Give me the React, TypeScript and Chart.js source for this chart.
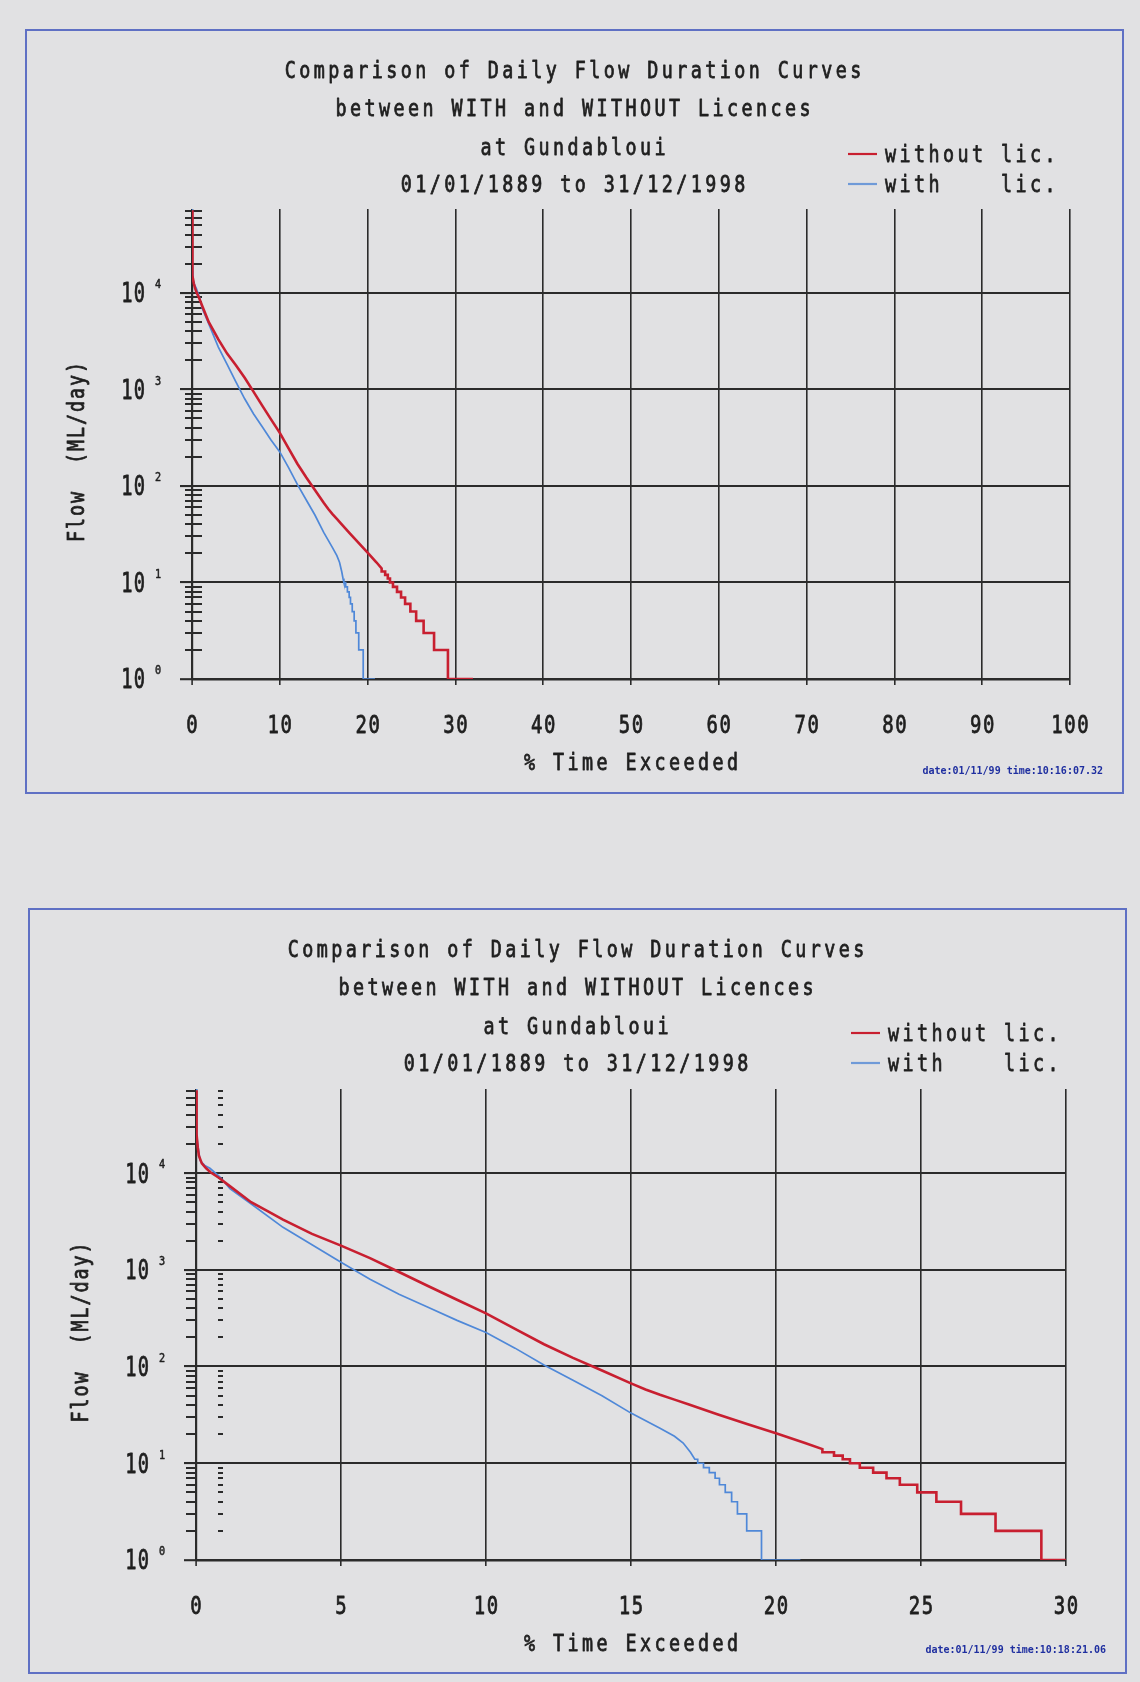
import React, { useEffect, useRef } from 'react';
import { Chart, registerables } from 'chart.js';

Chart.register(...registerables);

// ---------- data ----------
const X_TICKS_FULL = [0, 10, 20, 30, 40, 50, 60, 70, 80, 90, 100];
const X_TICKS_ZOOM = [0, 5, 10, 15, 20, 25, 30];
const Y_DECADES = [1, 10, 100, 1000, 10000];
const Y_EXPONENTS = ['0', '1', '2', '3', '4'];
const Y_MIN = 1;
const Y_MAX = 74000;

const TITLE_LINES = [
  'Comparison of Daily Flow Duration Curves',
  'between WITH and WITHOUT Licences',
  'at Gundabloui',
  '01/01/1889 to 31/12/1998',
];
const LEGEND_LABELS = ['without lic.', 'with    lic.'];
const X_TITLE = '% Time Exceeded';
const Y_TITLE = 'Flow  (ML/day)';
const STAMPS = ['date:01/11/99 time:10:16:07.32', 'date:01/11/99 time:10:18:21.06'];

// "without lic." flow duration curve (% time exceeded, ML/day)
const WITHOUT_X = [
  0, 0.01, 0.03, 0.06, 0.1, 0.2, 0.35, 0.5, 0.8, 1.2, 1.9, 2.5, 3, 4, 5, 6, 7, 8, 9, 10,
  11, 12, 13, 14, 15, 15.5, 16, 16.5, 17, 18, 19, 20, 21, 21.6, 21.6, 22.0, 22.0, 22.3, 22.3, 22.55,
  22.55, 22.89, 22.89, 23.35, 23.35, 23.81, 23.81, 24.27, 24.27, 24.87, 24.87, 25.53,
  25.53, 26.38, 26.38, 27.57, 27.57, 29.15, 29.15, 32,
];
const WITHOUT_Y = [
  72000, 40000, 25000, 18500, 15100, 12600, 11200, 10200, 8900, 7200, 5000, 4000, 3300,
  2350, 1780, 1320, 950, 680, 490, 355, 245, 170, 123, 91, 67, 58, 51, 45.5, 40.5, 32, 25.5, 20.4,
  16.2, 14, 13, 13, 12, 12, 11, 11, 10, 10, 9, 9, 8, 8, 7, 7, 6, 6, 5, 5, 4, 4, 3, 3, 2,
  2, 1, 1,
];

// "with lic." flow duration curve
const WITH_X = [
  0, 0.01, 0.03, 0.06, 0.14, 0.3, 0.48, 0.83, 1.17, 1.86, 3, 4, 5, 6, 7, 8, 9, 10, 11, 12,
  13, 14, 15, 16, 16.5, 16.8, 17.05, 17.2, 17.3, 17.3, 17.5, 17.5, 17.7, 17.7, 17.9, 17.9,
  18.05, 18.05, 18.25, 18.25, 18.47, 18.47, 18.67, 18.67, 18.99, 18.99, 19.5, 19.5, 20.84,
];
const WITH_Y = [
  74000, 42000, 26000, 19500, 13500, 12000, 11200, 9100, 6900, 4900, 2750, 1820, 1200, 800,
  560, 410, 300, 225, 155, 104, 72, 50, 33, 23, 19, 16.2, 13, 11, 11, 10, 10, 9, 9, 8, 8, 7, 7,
  6, 6, 5, 5, 4, 4, 3, 3, 2, 2, 1, 1,
];

// ---------- styles ----------
const PAGE_BG = '#e1e1e3';
const PANEL_BORDER = '#5f70c4';
const GRID = '#2b2b2b';
const TEXT = '#1f1f1f';
const RED = '#c81f30';
const BLUE = '#4f88d8';
const LEGEND_BLUE = '#6f9ad8';
const STAMP_COLOR = '#1f2fa0';
const MONO = '"DejaVu Sans Mono", "Liberation Mono", monospace';

type TickStyle = 'cross' | 'split';
interface PanelSpec {
  left: number;
  top: number;
  width: number;
  height: number;
  xMax: number;
  xTicks: number[];
  padding: { left: number; right: number; top: number; bottom: number };
  tickStyle: TickStyle;
  stamp: string;
}

const PANELS: PanelSpec[] = [
  {
    left: 25, top: 29, width: 1099, height: 765, xMax: 100, xTicks: X_TICKS_FULL,
    padding: { left: 153, right: 52, top: 178, bottom: 107 }, tickStyle: 'cross', stamp: STAMPS[0],
  },
  {
    left: 28, top: 908, width: 1099, height: 766, xMax: 30, xTicks: X_TICKS_ZOOM,
    padding: { left: 154, right: 59, top: 179, bottom: 106 }, tickStyle: 'split', stamp: STAMPS[1],
  },
];

interface MonoOpts {
  size: number;
  cell: number;
  sx: number;
  align?: 'left' | 'center' | 'right';
  color?: string;
  weight?: string;
  stroke?: number;
}

function drawMono(ctx: CanvasRenderingContext2D, text: string, x: number, y: number, o: MonoOpts) {
  ctx.save();
  ctx.font = `${o.weight || 'normal'} ${o.size}px ${MONO}`;
  ctx.fillStyle = o.color || TEXT;
  ctx.strokeStyle = o.color || TEXT;
  ctx.lineWidth = o.stroke === undefined ? 0.8 : o.stroke;
  ctx.lineJoin = 'round';
  ctx.textAlign = 'left';
  ctx.textBaseline = 'alphabetic';
  const adv = ctx.measureText('M').width;
  const chars = Array.from(text);
  const glyph = adv * o.sx;
  const total = (chars.length - 1) * o.cell + glyph;
  const start = o.align === 'center' ? x - total / 2 : o.align === 'right' ? x - total : x;
  const base = y + (o.size * 0.729) / 2;
  ctx.translate(start, base);
  ctx.scale(o.sx, 1);
  const ls = o.cell / o.sx - adv;
  const anyCtx = ctx as any;
  const doStroke = ctx.lineWidth > 0 && o.stroke !== 0;
  if (typeof anyCtx.letterSpacing === 'string') {
    anyCtx.letterSpacing = `${ls}px`;
    ctx.fillText(text, 0, 0);
    if (doStroke) ctx.strokeText(text, 0, 0);
  } else {
    chars.forEach((ch, i) => {
      ctx.fillText(ch, (i * o.cell) / o.sx, 0);
      if (doStroke) ctx.strokeText(ch, (i * o.cell) / o.sx, 0);
    });
  }
  ctx.restore();
}

const TITLE_FONT = { size: 23, cell: 14.5, sx: 0.8 };

const decorPlugin = {
  id: 'panelDecor',
  beforeDatasetsDraw(chart: any, _args: any, opts: any) {
    const ctx: CanvasRenderingContext2D = chart.ctx;
    const xs = chart.scales.x;
    const ys = chart.scales.y;
    const x0 = xs.getPixelForValue(0);
    ctx.save();
    ctx.strokeStyle = GRID;
    ctx.lineWidth = 2;
    ctx.beginPath();
    Y_DECADES.forEach((d) => {
      for (let m = 2; m <= 9; m++) {
        const v = m * d;
        if (v > Y_MAX) continue;
        const py = Math.round(ys.getPixelForValue(v));
        if (opts.tickStyle === 'cross') {
          ctx.moveTo(x0 - 7, py);
          ctx.lineTo(x0 + 10, py);
        } else {
          ctx.moveTo(x0 - 10, py);
          ctx.lineTo(x0, py);
          ctx.moveTo(x0 + 22, py);
          ctx.lineTo(x0 + 27, py);
        }
      }
    });
    ctx.stroke();
    ctx.restore();
  },
  afterDraw(chart: any, _args: any, opts: any) {
    const ctx: CanvasRenderingContext2D = chart.ctx;
    const area = chart.chartArea;
    const xs = chart.scales.x;
    const ys = chart.scales.y;
    const x0 = xs.getPixelForValue(0);

    // titles
    const titleY = [39, 77, 115.5, 153];
    TITLE_LINES.forEach((line, i) => {
      drawMono(ctx, line, 546, titleY[i], { ...TITLE_FONT, align: 'center' });
    });

    // legend
    const legendY = [123, 153];
    const legendColors = [RED, LEGEND_BLUE];
    LEGEND_LABELS.forEach((lab, i) => {
      ctx.save();
      ctx.strokeStyle = legendColors[i];
      ctx.lineWidth = 2.2;
      ctx.beginPath();
      ctx.moveTo(821, legendY[i]);
      ctx.lineTo(850, legendY[i]);
      ctx.stroke();
      ctx.restore();
      drawMono(ctx, lab, 858, legendY[i], { ...TITLE_FONT, align: 'left' });
    });

    // x tick labels
    (opts.xTicks as number[]).forEach((v) => {
      drawMono(ctx, String(v), xs.getPixelForValue(v), area.bottom + 45, {
        size: 25, cell: 13, sx: 0.76, align: 'center',
      });
    });

    // y tick labels (10 with superscript exponent)
    Y_DECADES.forEach((v, i) => {
      const py = ys.getPixelForValue(v);
      drawMono(ctx, '10', x0 - 47, py, { size: 26, cell: 12.5, sx: 0.72, align: 'right' });
      drawMono(ctx, Y_EXPONENTS[i], x0 - 37, py - 9, {
        size: 12, cell: 8, sx: 0.85, align: 'left', stroke: 0.5,
      });
    });

    // axis titles
    drawMono(ctx, X_TITLE, (area.left + area.right) / 2, area.bottom + 83, {
      ...TITLE_FONT, align: 'center',
    });
    ctx.save();
    ctx.translate(area.left - 116, (area.top + area.bottom) / 2 + 8);
    ctx.rotate(-Math.PI / 2);
    drawMono(ctx, Y_TITLE, 0, 0, { size: 23, cell: 13, sx: 0.8, align: 'center' });
    ctx.restore();

    // date stamp
    ctx.save();
    ctx.font = `bold 10px ${MONO}`;
    ctx.fillStyle = STAMP_COLOR;
    ctx.textAlign = 'right';
    ctx.textBaseline = 'middle';
    ctx.fillText(opts.stamp, 1076, 740);
    ctx.restore();
  },
};

function Panel({ spec }: { spec: PanelSpec }) {
  const ref = useRef<HTMLCanvasElement | null>(null);
  const cw = spec.width - 4;
  const ch = spec.height - 4;

  useEffect(() => {
    if (!ref.current) return;
    const chart = new Chart(ref.current, {
      type: 'line',
      data: {
        datasets: [
          {
            label: LEGEND_LABELS[0],
            data: WITHOUT_X.map((x, i) => ({ x, y: WITHOUT_Y[i] })),
            borderColor: RED,
            backgroundColor: RED,
            borderWidth: 2.6,
            pointRadius: 0,
            tension: 0,
            fill: false,
          },
          {
            label: LEGEND_LABELS[1],
            data: WITH_X.map((x, i) => ({ x, y: WITH_Y[i] })),
            borderColor: BLUE,
            backgroundColor: BLUE,
            borderWidth: 1.7,
            pointRadius: 0,
            tension: 0,
            fill: false,
          },
        ],
      },
      options: {
        animation: false,
        responsive: false,
        maintainAspectRatio: false,
        devicePixelRatio: 1,
        events: [],
        layout: { padding: spec.padding },
        plugins: {
          legend: { display: false },
          title: { display: false },
          tooltip: { enabled: false },
          panelDecor: { tickStyle: spec.tickStyle, stamp: spec.stamp, xTicks: spec.xTicks },
        } as any,
        scales: {
          x: {
            type: 'linear',
            min: 0,
            max: spec.xMax,
            afterBuildTicks: (s: any) => {
              s.ticks = spec.xTicks.map((v) => ({ value: v }));
            },
            ticks: { display: false },
            grid: {
              color: GRID,
              lineWidth: (c: any) => (c.tick && c.tick.value === 0 ? 2.2 : 1.6),
              drawTicks: true,
              tickLength: 6,
              tickColor: GRID,
              tickWidth: 1.6,
            },
            border: { display: false },
          },
          y: {
            type: 'logarithmic',
            min: Y_MIN,
            max: Y_MAX,
            afterBuildTicks: (s: any) => {
              s.ticks = Y_DECADES.map((v) => ({ value: v }));
            },
            ticks: { display: false },
            grid: {
              color: GRID,
              lineWidth: (c: any) => (c.tick && c.tick.value === 1 ? 2.4 : 2.1),
              drawTicks: true,
              tickLength: 12,
              tickColor: GRID,
              tickWidth: 2.1,
            },
            border: { display: false },
          },
        },
      } as any,
      plugins: [decorPlugin as any],
    });
    return () => chart.destroy();
  }, [spec]);

  return (
    <div
      style={{
        position: 'absolute',
        left: spec.left,
        top: spec.top,
        width: spec.width,
        height: spec.height,
        boxSizing: 'border-box',
        border: `2px solid ${PANEL_BORDER}`,
        background: PAGE_BG,
      }}
    >
      <canvas
        ref={ref}
        width={cw}
        height={ch}
        style={{ display: 'block', width: cw, height: ch }}
      />
    </div>
  );
}

export default function App() {
  return (
    <div
      style={{
        position: 'absolute',
        left: 0,
        top: 0,
        width: 1140,
        height: 1682,
        background: PAGE_BG,
        overflow: 'hidden',
      }}
    >
      {PANELS.map((p, i) => (
        <Panel key={i} spec={p} />
      ))}
    </div>
  );
}
